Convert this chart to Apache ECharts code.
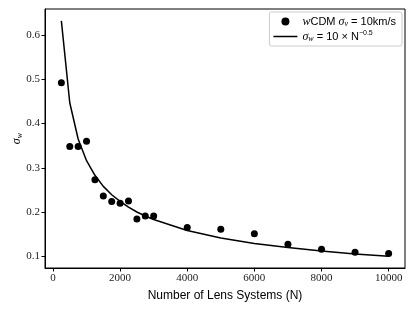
<!DOCTYPE html>
<html><head><meta charset="utf-8">
<script src="https://cdn.jsdelivr.net/npm/echarts@6/dist/echarts.min.js"></script>
<style>html,body{margin:0;padding:0;background:#fff}#c{width:415px;height:311px}</style>
</head><body><div id="c"></div>
<script>
const lensN = [250,500,750,1000,1250,1500,1750,2000,2250,2500,2750,3000,4000,5000,6000,7000,8000,9000,10000];
const sigmaW = [0.492,0.348,0.348,0.360,0.273,0.236,0.224,0.220,0.225,0.184,0.191,0.191,0.165,0.161,0.151,0.127,0.116,0.109,0.106];
const fitN = [250,500,750,1000,1250,1500,1750,2000,2250,2500,2750,3000,4000,5000,6000,7000,8000,9000,10000];
const fitSigma = [0.632,0.447,0.365,0.316,0.283,0.258,0.239,0.224,0.211,0.200,0.191,0.183,0.158,0.141,0.129,0.120,0.112,0.105,0.100];
const xTicks = [0,2000,4000,6000,8000,10000];
const yTicks = [0.1,0.2,0.3,0.4,0.5,0.6];

const serif = '"Liberation Serif", "DejaVu Serif", serif';
const sans = '"Liberation Sans", "DejaVu Sans", sans-serif';
const chart = echarts.init(document.getElementById('c'), null, {renderer:'canvas'});
const richStyles = {
  i:{fontStyle:'italic',fontFamily:serif,fontSize:12,color:'#000',lineHeight:14},
  t:{fontFamily:sans,fontSize:11,color:'#000',lineHeight:14},
  s:{fontStyle:'italic',fontFamily:serif,fontSize:8,color:'#000',lineHeight:14,padding:[5,0,0,0]},
  p:{fontFamily:sans,fontSize:7,color:'#000',lineHeight:14,padding:[0,0,6,0]}
};
chart.setOption({
  animation:false,
  grid:{left:45,right:10,top:9,bottom:43,show:true,borderColor:'#000',borderWidth:1,containLabel:false,outerBoundsMode:'none'},
  xAxis:{type:'value',min:-237.5,max:10487.5,
    name:'Number of Lens Systems (N)',nameLocation:'middle',nameGap:22,nameMoveOverlap:false,
    nameTextStyle:{fontFamily:sans,fontSize:12,color:'#000'},
    axisLine:{show:true,onZero:false,lineStyle:{color:'#000',width:1}},
    axisTick:{show:true,length:3.5,inside:false,customValues:xTicks,lineStyle:{color:'#000'}},
    axisLabel:{customValues:xTicks,fontFamily:serif,fontSize:11,color:'#222',margin:5,formatter:v=>String(v)},
    splitLine:{show:false}},
  yAxis:{type:'value',min:0.0734,max:0.659,
    name:'{i|σ}{s|w}',nameLocation:'middle',nameGap:21,nameRotate:90,nameMoveOverlap:false,
    nameTextStyle:{rich:richStyles},
    axisLine:{show:true,onZero:false,lineStyle:{color:'#000',width:1}},
    axisTick:{show:true,length:3.5,inside:false,customValues:yTicks,lineStyle:{color:'#000'}},
    axisLabel:{customValues:yTicks,fontFamily:serif,fontSize:11,color:'#222',margin:5,formatter:v=>v.toFixed(1)},
    splitLine:{show:false}},
  legend:{orient:'vertical',right:13,top:12,padding:[3,6,3,4],itemGap:2,itemWidth:24,itemHeight:8,
    backgroundColor:'#fff',borderColor:'#ccc',borderWidth:1,borderRadius:2,
    data:[{name:'scatter',icon:'circle'},{name:'fit',icon:'path://M0 0H24V1.5H0Z'}],
    formatter:n=> n==='scatter' ? '{i|w}{t|CDM }{i|σ}{s|v}{t| = 10km/s}' : '{i|σ}{s|w}{t| = 10 × N}{p|−0.5}',
    textStyle:{rich:richStyles}},
  series:[
    {name:'scatter',type:'scatter',data:lensN.map((n,i)=>[n,sigmaW[i]]),symbolSize:7,itemStyle:{color:'#000',opacity:1},z:3},
    {name:'fit',type:'line',data:fitN.map((n,i)=>[n,fitSigma[i]]),showSymbol:false,symbol:'none',
      lineStyle:{color:'#000',width:1.5},itemStyle:{color:'#000'},z:2}
  ]
});
</script></body></html>
